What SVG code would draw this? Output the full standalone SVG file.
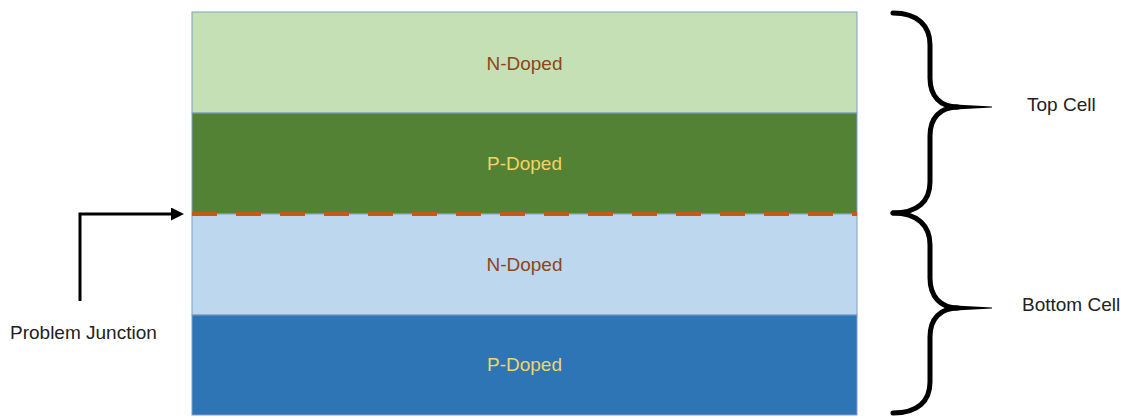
<svg xmlns="http://www.w3.org/2000/svg" width="1128" height="419" viewBox="0 0 1128 419">
<style>
.layer{stroke:#7E9FC6;stroke-width:1}
.lbl{font-family:"Liberation Sans",Arial,sans-serif;font-size:19px;text-anchor:middle}
.n{fill:#8F4518}
.p{fill:#F2D363}
.side{font-family:"Liberation Sans",Arial,sans-serif;font-size:19px;fill:#222}
.brace{fill:none;stroke:#000;stroke-width:5;stroke-linecap:round;stroke-linejoin:round}
</style>
<defs>
<marker id="arr" markerUnits="userSpaceOnUse" markerWidth="14" markerHeight="14" refX="7" refY="6.5" orient="auto">
<path d="M0,0 L13,6.5 L0,13 z" fill="#000"/>
</marker>
</defs>
<g id="top-n">
<rect class="layer" x="192" y="12" width="665" height="101" fill="#C5E0B4"/>
<text class="lbl n" x="524.5" y="70">N-Doped</text>
</g>
<g id="top-p">
<rect class="layer" x="192" y="113" width="665" height="101" fill="#548235"/>
<text class="lbl p" x="524.5" y="170">P-Doped</text>
</g>
<g id="bottom-n">
<rect class="layer" x="192" y="214" width="665" height="101" fill="#BDD7EE"/>
<text class="lbl n" x="524.5" y="271">N-Doped</text>
</g>
<g id="bottom-p">
<rect class="layer" x="192" y="315" width="665" height="100" fill="#2E75B6"/>
<text class="lbl p" x="524.5" y="371">P-Doped</text>
</g>
<g id="junction">
<line x1="192" y1="214" x2="857" y2="214" stroke="#C55A11" stroke-width="4" stroke-dasharray="25 19"/>
</g>
<g id="top-cell">
<path class="brace" d="M893,13 C918,13 930,26 930,45 L930,78 C930,96 940,107 958,107 C940,107 930,118 930,136 L930,182 C930,201 918,213 893,213"/>
<polygon points="955,104.5 992,106.6 992,107.6 955,109.5" fill="#000"/>
<text class="side" x="1027" y="111">Top Cell</text>
</g>
<g id="bottom-cell">
<path class="brace" d="M893,213 C918,213 930,226 930,245 L930,278 C930,296 940,308 958,308 C940,308 930,319 930,337 L930,382 C930,401 918,413 893,413"/>
<polygon points="955,305.5 992,307.6 992,308.6 955,310.5" fill="#000"/>
<text class="side" x="1022" y="311">Bottom Cell</text>
</g>
<g id="connectors">
<path d="M80,301 L80,214 L178,214" fill="none" stroke="#000" stroke-width="3" marker-end="url(#arr)"/>
</g>
<g id="problem-junction">
<text class="side" x="10" y="339">Problem Junction</text>
</g>
</svg>
